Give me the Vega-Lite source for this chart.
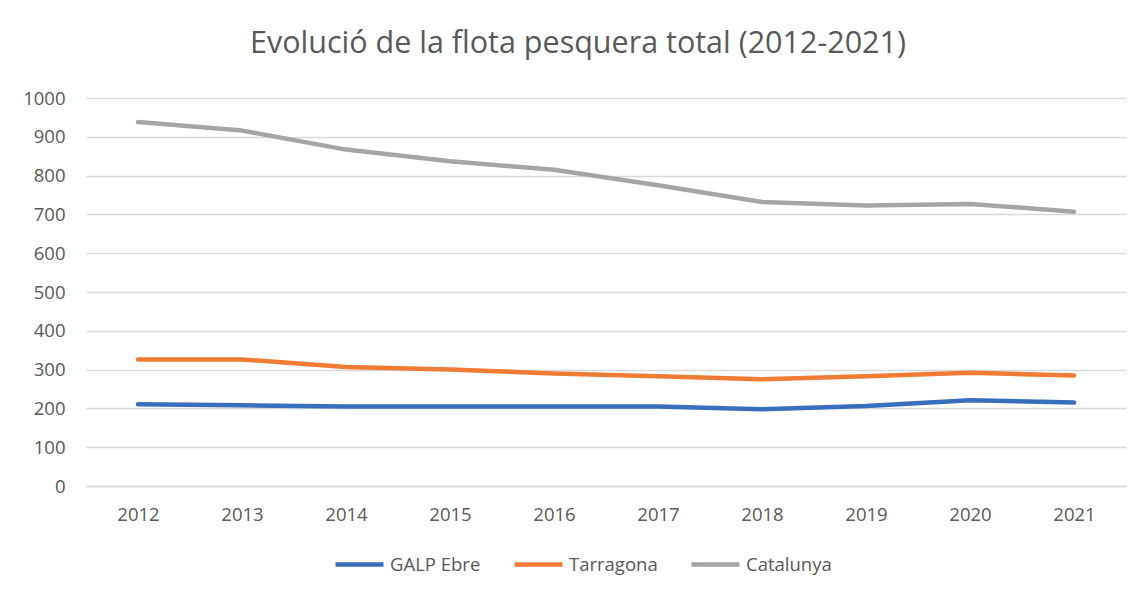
{
  "$schema": "https://vega.github.io/schema/vega-lite/v6.json",
  "width": 1040,
  "height": 388,
  "autosize": "none",
  "padding": {"left": 86, "top": 98, "right": 12, "bottom": 107},
  "background": "white",
  "config": {
    "font": "Open Sans",
    "view": {"stroke": null}
  },
  "title": {
    "text": "Evolució de la flota pesquera total (2012-2021)",
    "fontSize": 30.5,
    "fontWeight": "normal",
    "color": "#595959",
    "font": "Open Sans",
    "anchor": "middle",
    "dx": -28,
    "offset": 30
  },
  "data": {
    "values": [
      {"year": "2012", "series": "GALP Ebre", "value": 211},
      {"year": "2013", "series": "GALP Ebre", "value": 208},
      {"year": "2014", "series": "GALP Ebre", "value": 205},
      {"year": "2015", "series": "GALP Ebre", "value": 205},
      {"year": "2016", "series": "GALP Ebre", "value": 205},
      {"year": "2017", "series": "GALP Ebre", "value": 205},
      {"year": "2018", "series": "GALP Ebre", "value": 198},
      {"year": "2019", "series": "GALP Ebre", "value": 206},
      {"year": "2020", "series": "GALP Ebre", "value": 221},
      {"year": "2021", "series": "GALP Ebre", "value": 215},
      {"year": "2012", "series": "Tarragona", "value": 326},
      {"year": "2013", "series": "Tarragona", "value": 326},
      {"year": "2014", "series": "Tarragona", "value": 307},
      {"year": "2015", "series": "Tarragona", "value": 300},
      {"year": "2016", "series": "Tarragona", "value": 290},
      {"year": "2017", "series": "Tarragona", "value": 283},
      {"year": "2018", "series": "Tarragona", "value": 275},
      {"year": "2019", "series": "Tarragona", "value": 283},
      {"year": "2020", "series": "Tarragona", "value": 292},
      {"year": "2021", "series": "Tarragona", "value": 285},
      {"year": "2012", "series": "Catalunya", "value": 938},
      {"year": "2013", "series": "Catalunya", "value": 916},
      {"year": "2014", "series": "Catalunya", "value": 867},
      {"year": "2015", "series": "Catalunya", "value": 837},
      {"year": "2016", "series": "Catalunya", "value": 815},
      {"year": "2017", "series": "Catalunya", "value": 775},
      {"year": "2018", "series": "Catalunya", "value": 732},
      {"year": "2019", "series": "Catalunya", "value": 723},
      {"year": "2020", "series": "Catalunya", "value": 727},
      {"year": "2021", "series": "Catalunya", "value": 707}
    ]
  },
  "mark": {"type": "line", "strokeWidth": 4.5, "strokeCap": "round", "strokeJoin": "round"},
  "encoding": {
    "x": {
      "field": "year",
      "type": "ordinal",
      "scale": {"type": "point", "padding": 0.5},
      "axis": {
        "title": null,
        "labelAngle": 0,
        "labelFontSize": 18.5,
        "labelColor": "#595959",
        "labelFont": "Open Sans",
        "labelPadding": 19,
        "ticks": false,
        "domainColor": "#D9D9D9",
        "domainWidth": 1.5,
        "grid": false
      }
    },
    "y": {
      "field": "value",
      "type": "quantitative",
      "scale": {"domain": [0, 1000], "nice": false, "zero": true},
      "axis": {
        "title": null,
        "format": "d",
        "values": [0, 100, 200, 300, 400, 500, 600, 700, 800, 900, 1000],
        "labelFontSize": 18.5,
        "labelColor": "#595959",
        "labelFont": "Open Sans",
        "labelPadding": 21,
        "ticks": false,
        "domain": false,
        "gridColor": "#D9D9D9",
        "gridWidth": 1.5
      }
    },
    "color": {
      "field": "series",
      "type": "nominal",
      "sort": ["GALP Ebre", "Tarragona", "Catalunya"],
      "scale": {
        "domain": ["GALP Ebre", "Tarragona", "Catalunya"],
        "range": ["#3A6DBB", "#F07B35", "#A3A6A5"]
      },
      "legend": {
        "title": null,
        "orient": "none",
        "direction": "horizontal",
        "legendX": 247,
        "legendY": 440,
        "symbolType": "stroke",
        "symbolStrokeWidth": 4.5,
        "symbolSize": 2300,
        "labelFontSize": 18.5,
        "labelColor": "#595959",
        "labelFont": "Open Sans",
        "columnPadding": 24,
        "labelOffset": 4
      }
    }
  }
}
